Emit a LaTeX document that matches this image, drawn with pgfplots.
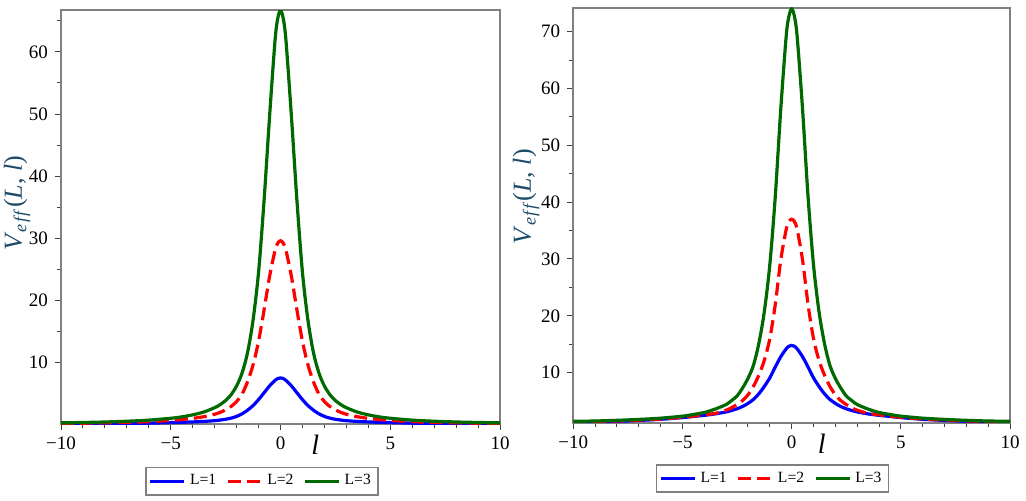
\documentclass[border=0pt]{standalone}
\usepackage{fontspec}
\setmainfont{Liberation Serif}
\usepackage{pgfplots}
\usepackage{pgfplotstable}
\pgfplotsset{compat=1.18}
\definecolor{axgray}{RGB}{128,128,128}
\definecolor{labcol}{RGB}{30,75,105}
\definecolor{cblue}{RGB}{0,0,255}
\definecolor{cred}{RGB}{255,0,0}
\definecolor{cgreen}{RGB}{0,105,0}

\pgfplotstableread{
x      b      r      g
-10    0.074  0.165  0.26
-9     0.092  0.205  0.32
-8     0.118  0.26   0.40
-7     0.155  0.34   0.52
-6     0.21   0.46   0.70
-5     0.30   0.66   1.00
-4.5   0.35   0.80   1.22
-4     0.41   0.98   1.55
-3.5   0.49   1.25   2.00
-3     0.61   1.65   2.70
-2.75  0.71   1.95   3.20
-2.5   0.84   2.35   3.85
-2.25  1.02   2.90   4.80
-2     1.30   3.70   6.20
-1.75  1.72   4.90   8.30
-1.5   2.30   6.90   11.6
-1.25  3.05   9.60   16.8
-1     4.00   13.4   24.5
-0.75  5.10   18.4   36.0
-0.5   6.20   23.8   49.5
-0.25  7.10   28.0   61.8
-0.125 7.40   29.2   65.4
0      7.50   29.6   66.7
0.125  7.40   29.2   65.4
0.25   7.10   28.0   61.8
0.5    6.20   23.8   49.5
0.75   5.10   18.4   36.0
1      4.00   13.4   24.5
1.25   3.05   9.60   16.8
1.5    2.30   6.90   11.6
1.75   1.72   4.90   8.30
2      1.30   3.70   6.20
2.25   1.02   2.90   4.80
2.5    0.84   2.35   3.85
2.75   0.71   1.95   3.20
3      0.61   1.65   2.70
3.5    0.49   1.25   2.00
4      0.41   0.98   1.55
4.5    0.35   0.80   1.22
5      0.30   0.66   1.00
6      0.21   0.46   0.70
7      0.155  0.34   0.52
8      0.118  0.26   0.40
9      0.092  0.205  0.32
10     0.074  0.165  0.26
}\lefttable

\pgfplotstableread{
x      b      r      g
-10    1.22   1.34   1.45
-9     1.33   1.42   1.50
-8     1.45   1.52   1.62
-7     1.60   1.66   1.78
-6     1.80   1.85   2.00
-5     2.10   2.15   2.35
-4.5   2.30   2.35   2.65
-4     2.50   2.60   3.00
-3.5   2.75   2.85   3.60
-3     3.10   3.40   4.40
-2.75  3.35   3.85   5.10
-2.5   3.65   4.40   5.90
-2.25  4.05   5.10   7.30
-2     4.60   6.10   9.00
-1.75  5.30   7.60   11.3
-1.5   6.30   9.60   15.2
-1.25  7.60   12.2   20.8
-1     9.10   16.0   29.0
-0.75  11.0   22.0   41.0
-0.5   12.8   29.8   56.3
-0.25  14.2   35.2   69.2
-0.125 14.65  36.6   72.7
0      14.8   37.0   74.0
0.125  14.65  36.6   72.7
0.25   14.2   35.2   69.2
0.5    12.8   29.8   56.3
0.75   11.0   22.0   41.0
1      9.10   16.0   29.0
1.25   7.60   12.2   20.8
1.5    6.30   9.60   15.2
1.75   5.30   7.60   11.3
2      4.60   6.10   9.00
2.25   4.05   5.10   7.30
2.5    3.65   4.40   5.90
2.75   3.35   3.85   5.10
3      3.10   3.40   4.40
3.5    2.75   2.85   3.60
4      2.50   2.60   3.00
4.5    2.30   2.35   2.65
5      2.10   2.15   2.35
6      1.80   1.85   2.00
7      1.60   1.66   1.78
8      1.45   1.52   1.62
9      1.33   1.42   1.50
10     1.22   1.34   1.45
}\righttable

\pgfplotsset{
  panel/.style={
    anchor=south west, scale only axis,
    xmin=-10, xmax=10,
    axis line style={draw=axgray, line width=0.9pt},
    xtick={-10,-5,0,5,10},
    xticklabels={−10,−5,0,5,10},
    minor x tick num=4,
    ytick={10,20,30,40,50,60,70},
    minor y tick num=1,
    tick align=outside,
    xtick pos=bottom, ytick pos=left,
    major tick length=3pt, minor tick length=2pt,
    tick style={draw=black!75, line width=0.5pt},
    ticklabel style={font=\fontsize{9.5}{11}\selectfont},
    /pgf/number format/assume math mode=true,
    xlabel={\textit{l}},
    xlabel style={anchor=north, inner sep=0pt, font=\fontsize{14}{16}\selectfont},
    ylabel={\textit{V}\textsubscript{\textit{e\kern0.8pt f\kern0.8pt f}}(\textit{L}, \textit{l})},
    ylabel style={anchor=center, inner sep=0pt, text=labcol, font=\fontsize{13}{15}\selectfont},
    legend columns=3,
    legend style={anchor=center, draw=axgray, line width=0.9pt, font=\fontsize{7.8}{9}\selectfont,
      inner sep=1.5pt, row sep=0pt,
      /tikz/every even column/.append style={column sep=3pt}},
    legend image code/.code={\draw[#1] (0pt,0pt) -- (17pt,0pt);},
    legend cell align=left,
  },
  bl/.style={cblue, line width=1.6pt, smooth, tension=0.5},
  rd/.style={cred, line width=1.6pt, smooth, tension=0.5, dash pattern=on 6.5pt off 3pt},
  gr/.style={cgreen, line width=1.6pt, smooth, tension=0.5},
}

\begin{document}
\begin{tikzpicture}
\path[use as bounding box] (0,0) rectangle (513pt,250pt);

\begin{axis}[panel,
  at={(30.5pt,38pt)}, width=219.5pt, height=207pt,
  ymin=0.074, ymax=66.75,
  xlabel style={at={(axis description cs:0.579,0)}, yshift=-5.5pt},
  ylabel style={at={(axis description cs:-0.100,0.533)}},
  legend style={at={(axis description cs:0.4575,-0.138)}},
]
\addplot[bl] table[x=x,y=b] {\lefttable};
\addplot[rd] table[x=x,y=r] {\lefttable};
\addplot[gr] table[x=x,y=g] {\lefttable};
\legend{L=1,L=2,L=3}
\end{axis}

\begin{axis}[panel,
  at={(286.65pt,38.65pt)}, width=218.35pt, height=207.35pt,
  ymin=1.2, ymax=74.15,
  xlabel style={at={(axis description cs:0.569,0)}, yshift=-5.5pt},
  ylabel style={at={(axis description cs:-0.108,0.545)}},
  legend style={at={(axis description cs:0.456,-0.135)}},
]
\addplot[bl] table[x=x,y=b] {\righttable};
\addplot[rd] table[x=x,y=r] {\righttable};
\addplot[gr] table[x=x,y=g] {\righttable};
\legend{L=1,L=2,L=3}
\end{axis}
\end{tikzpicture}
\end{document}
